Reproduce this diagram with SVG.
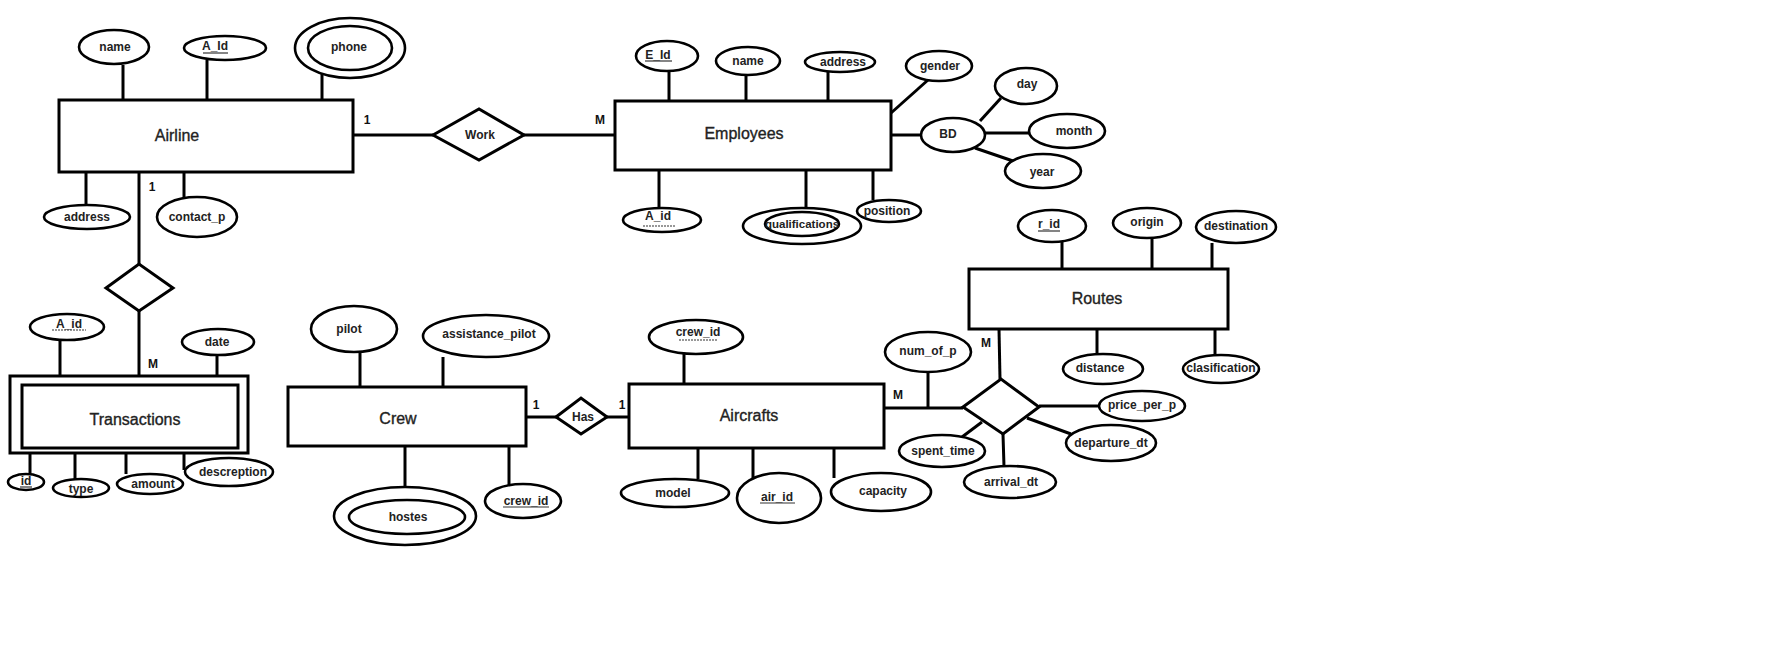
<svg xmlns="http://www.w3.org/2000/svg" width="1783" height="659" viewBox="0 0 1783 659">
<style>
.bg{fill:#fff}
.ent{fill:#fff;stroke:#000;stroke-width:3}
.att{fill:#fff;stroke:#000;stroke-width:2.6}
.rel{fill:#fff;stroke:#000;stroke-width:3;stroke-linejoin:miter}
.ln{stroke:#000;stroke-width:3;fill:none}
.ul{stroke:#333;stroke-width:1.2}
.dl{stroke:#333;stroke-width:1.2;stroke-dasharray:2 1}
.et{font-family:"Liberation Sans",Arial,sans-serif;font-size:16px;fill:#222;stroke:#222;stroke-width:0.35;text-anchor:middle;dominant-baseline:central}
.at{font-family:"Liberation Sans",Arial,sans-serif;font-size:12px;font-weight:bold;fill:#222;text-anchor:middle;dominant-baseline:central}
.cd{font-family:"Liberation Sans",Arial,sans-serif;font-size:12px;font-weight:bold;fill:#111;text-anchor:middle;dominant-baseline:central}
</style>
<rect class="bg" x="0" y="0" width="1783" height="659"/>

<g id="connectors">
  <line class="ln" x1="123" y1="65" x2="123" y2="100"/>
  <line class="ln" x1="207" y1="60" x2="207" y2="100"/>
  <line class="ln" x1="322" y1="74" x2="322" y2="100"/>
  <line class="ln" x1="86" y1="172" x2="86" y2="205"/>
  <line class="ln" x1="184" y1="172" x2="184" y2="198"/>
  <line class="ln" x1="139" y1="172" x2="139" y2="264"/>
  <line class="ln" x1="139" y1="311" x2="139" y2="376"/>
  <line class="ln" x1="353" y1="135" x2="433" y2="135"/>
  <line class="ln" x1="524" y1="135" x2="615" y2="135"/>
  <line class="ln" x1="669" y1="71" x2="669" y2="101"/>
  <line class="ln" x1="746" y1="75" x2="746" y2="101"/>
  <line class="ln" x1="828" y1="72" x2="828" y2="101"/>
  <line class="ln" x1="891" y1="113" x2="928" y2="80"/>
  <line class="ln" x1="891" y1="135" x2="921" y2="135"/>
  <line class="ln" x1="980" y1="121" x2="1001" y2="98"/>
  <line class="ln" x1="985" y1="133" x2="1029" y2="133"/>
  <line class="ln" x1="975" y1="148" x2="1013" y2="161"/>
  <line class="ln" x1="659" y1="170" x2="659" y2="208"/>
  <line class="ln" x1="806" y1="170" x2="806" y2="212"/>
  <line class="ln" x1="873" y1="170" x2="873" y2="200"/>
  <line class="ln" x1="60" y1="340" x2="60" y2="376"/>
  <line class="ln" x1="217" y1="355" x2="217" y2="376"/>
  <line class="ln" x1="30" y1="448" x2="30" y2="474"/>
  <line class="ln" x1="75" y1="453" x2="75" y2="479"/>
  <line class="ln" x1="126" y1="453" x2="126" y2="474"/>
  <line class="ln" x1="184" y1="453" x2="184" y2="470"/>
  <line class="ln" x1="360" y1="352" x2="360" y2="387"/>
  <line class="ln" x1="443" y1="357" x2="443" y2="387"/>
  <line class="ln" x1="405" y1="446" x2="405" y2="487"/>
  <line class="ln" x1="509" y1="446" x2="509" y2="485"/>
  <line class="ln" x1="526" y1="417" x2="556" y2="417"/>
  <line class="ln" x1="607" y1="417" x2="633" y2="417"/>
  <line class="ln" x1="684" y1="354" x2="684" y2="384"/>
  <line class="ln" x1="698" y1="448" x2="698" y2="479"/>
  <line class="ln" x1="753" y1="448" x2="753" y2="483"/>
  <line class="ln" x1="834" y1="448" x2="834" y2="478"/>
  <line class="ln" x1="880" y1="408" x2="963" y2="408"/>
  <line class="ln" x1="928" y1="372" x2="928" y2="408"/>
  <line class="ln" x1="1062" y1="242" x2="1062" y2="269"/>
  <line class="ln" x1="1152" y1="238" x2="1152" y2="269"/>
  <line class="ln" x1="1212" y1="243" x2="1212" y2="269"/>
  <line class="ln" x1="1097" y1="329" x2="1097" y2="354"/>
  <line class="ln" x1="1215" y1="329" x2="1215" y2="355"/>
  <line class="ln" x1="999" y1="329" x2="1000" y2="379"/>
  <line class="ln" x1="1039" y1="406" x2="1099" y2="406"/>
  <line class="ln" x1="1027" y1="418" x2="1071" y2="434"/>
  <line class="ln" x1="1003" y1="434" x2="1004" y2="467"/>
  <line class="ln" x1="982" y1="422" x2="962" y2="437"/>
</g>

<g id="airline">
  <rect class="ent" x="59" y="100" width="294" height="72"/>
  <text class="et" x="177" y="135">Airline</text>
</g>
<g id="airline-name">
  <ellipse class="att" cx="114" cy="47" rx="35" ry="17"/>
  <text class="at" x="115" y="47">name</text>
</g>
<g id="airline-aid">
  <ellipse class="att" cx="225" cy="48" rx="41" ry="12"/>
  <text class="at" x="215" y="46">A_Id</text>
  <line class="ul" x1="203" y1="53" x2="228" y2="53"/>
</g>
<g id="airline-phone">
  <ellipse class="att" cx="350" cy="48" rx="55" ry="30"/>
  <ellipse class="att" cx="350" cy="48" rx="42" ry="22"/>
  <text class="at" x="349" y="47">phone</text>
</g>
<g id="airline-address">
  <ellipse class="att" cx="87" cy="217" rx="43" ry="12"/>
  <text class="at" x="87" y="217">address</text>
</g>
<g id="airline-contact">
  <ellipse class="att" cx="197" cy="217" rx="40" ry="20"/>
  <text class="at" x="197" y="217">contact_p</text>
</g>

<g id="work">
  <polygon class="rel" points="433,135 479,109 524,135 479,160"/>
  <text class="at" x="480" y="135">Work</text>
</g>
<g id="airline-trans-rel">
  <polygon class="rel" points="106,288 139,264 173,288 139,311"/>
</g>

<g id="employees">
  <rect class="ent" x="615" y="101" width="276" height="69"/>
  <text class="et" x="744" y="133">Employees</text>
</g>
<g id="emp-eid">
  <ellipse class="att" cx="667" cy="56" rx="31" ry="15"/>
  <text class="at" x="658" y="55">E_Id</text>
  <line class="ul" x1="645" y1="61" x2="672" y2="61"/>
</g>
<g id="emp-name">
  <ellipse class="att" cx="748" cy="61" rx="32" ry="14"/>
  <text class="at" x="748" y="61">name</text>
</g>
<g id="emp-address">
  <ellipse class="att" cx="840" cy="62" rx="35" ry="10"/>
  <text class="at" x="843" y="62">address</text>
</g>
<g id="emp-gender">
  <ellipse class="att" cx="939" cy="66" rx="33" ry="15"/>
  <text class="at" x="940" y="66">gender</text>
</g>
<g id="emp-bd">
  <ellipse class="att" cx="953" cy="135" rx="32" ry="17"/>
  <text class="at" x="948" y="134">BD</text>
</g>
<g id="bd-day">
  <ellipse class="att" cx="1026" cy="86" rx="31" ry="18"/>
  <text class="at" x="1027" y="84">day</text>
</g>
<g id="bd-month">
  <ellipse class="att" cx="1067" cy="131" rx="38" ry="17"/>
  <text class="at" x="1074" y="131">month</text>
</g>
<g id="bd-year">
  <ellipse class="att" cx="1043" cy="171" rx="38" ry="17"/>
  <text class="at" x="1042" y="172">year</text>
</g>
<g id="emp-aid">
  <ellipse class="att" cx="662" cy="220" rx="39" ry="12"/>
  <text class="at" x="658" y="216">A_id</text>
  <line class="dl" x1="643" y1="226" x2="676" y2="226"/>
</g>
<g id="emp-qual">
  <ellipse class="att" cx="802" cy="226" rx="59" ry="18"/>
  <ellipse class="att" cx="802" cy="224" rx="37" ry="12"/>
  <text class="at" x="802" y="224" style="font-size:11.5px">qualifications</text>
</g>
<g id="emp-position">
  <ellipse class="att" cx="889" cy="211" rx="32" ry="11"/>
  <text class="at" x="887" y="211">position</text>
</g>

<g id="routes">
  <rect class="ent" x="969" y="269" width="259" height="60"/>
  <text class="et" x="1097" y="298">Routes</text>
</g>
<g id="routes-rid">
  <ellipse class="att" cx="1052" cy="226" rx="34" ry="16"/>
  <text class="at" x="1049" y="224">r_id</text>
  <line class="ul" x1="1038" y1="231" x2="1060" y2="231"/>
</g>
<g id="routes-origin">
  <ellipse class="att" cx="1147" cy="223" rx="34" ry="15"/>
  <text class="at" x="1147" y="222">origin</text>
</g>
<g id="routes-dest">
  <ellipse class="att" cx="1236" cy="227" rx="40" ry="16"/>
  <text class="at" x="1236" y="226">destination</text>
</g>
<g id="routes-distance">
  <ellipse class="att" cx="1103" cy="369" rx="40" ry="15"/>
  <text class="at" x="1100" y="368">distance</text>
</g>
<g id="routes-class">
  <ellipse class="att" cx="1221" cy="369" rx="38" ry="14"/>
  <text class="at" x="1221" y="368">clasification</text>
</g>
<g id="route-rel">
  <polygon class="rel" points="963,407 1001,379 1039,407 1003,434"/>
</g>
<g id="rel-price">
  <ellipse class="att" cx="1142" cy="406" rx="43" ry="15"/>
  <text class="at" x="1142" y="405">price_per_p</text>
</g>
<g id="rel-departure">
  <ellipse class="att" cx="1111" cy="443" rx="45" ry="18"/>
  <text class="at" x="1111" y="443">departure_dt</text>
</g>
<g id="rel-arrival">
  <ellipse class="att" cx="1010" cy="482" rx="46" ry="16"/>
  <text class="at" x="1011" y="482">arrival_dt</text>
</g>
<g id="rel-spent">
  <ellipse class="att" cx="942" cy="451" rx="43" ry="16"/>
  <text class="at" x="943" y="451">spent_time</text>
</g>
<g id="rel-num">
  <ellipse class="att" cx="928" cy="352" rx="43" ry="20"/>
  <text class="at" x="928" y="351">num_of_p</text>
</g>

<g id="aircrafts">
  <rect class="ent" x="629" y="384" width="255" height="64"/>
  <text class="et" x="749" y="415">Aircrafts</text>
</g>
<g id="air-crewid">
  <ellipse class="att" cx="696" cy="337" rx="47" ry="17"/>
  <text class="at" x="698" y="332">crew_id</text>
  <line class="dl" x1="679" y1="340" x2="718" y2="340"/>
</g>
<g id="air-model">
  <ellipse class="att" cx="675" cy="493" rx="54" ry="14"/>
  <text class="at" x="673" y="493">model</text>
</g>
<g id="air-airid">
  <ellipse class="att" cx="779" cy="498" rx="42" ry="25"/>
  <text class="at" x="777" y="497">air_id</text>
  <line class="ul" x1="760" y1="503" x2="795" y2="503"/>
</g>
<g id="air-capacity">
  <ellipse class="att" cx="881" cy="492" rx="50" ry="19"/>
  <text class="at" x="883" y="491">capacity</text>
</g>

<g id="has">
  <polygon class="rel" points="556,417 581,398 607,417 581,434"/>
  <text class="at" x="583" y="417">Has</text>
</g>

<g id="crew">
  <rect class="ent" x="288" y="387" width="238" height="59"/>
  <text class="et" x="398" y="418">Crew</text>
</g>
<g id="crew-pilot">
  <ellipse class="att" cx="354" cy="329" rx="43" ry="23"/>
  <text class="at" x="349" y="329">pilot</text>
</g>
<g id="crew-assist">
  <ellipse class="att" cx="486" cy="336" rx="63" ry="21"/>
  <text class="at" x="489" y="334">assistance_pilot</text>
</g>
<g id="crew-hostes">
  <ellipse class="att" cx="405" cy="516" rx="71" ry="29"/>
  <ellipse class="att" cx="407" cy="517" rx="58" ry="17"/>
  <text class="at" x="408" y="517">hostes</text>
</g>
<g id="crew-crewid">
  <ellipse class="att" cx="523" cy="501" rx="38" ry="17"/>
  <text class="at" x="526" y="501">crew_id</text>
  <line class="ul" x1="503" y1="507" x2="549" y2="507"/>
</g>

<g id="transactions">
  <rect class="ent" x="10" y="376" width="238" height="77"/>
  <rect class="ent" x="22" y="385" width="216" height="63"/>
  <text class="et" x="135" y="419">Transactions</text>
</g>
<g id="trans-aid">
  <ellipse class="att" cx="67" cy="327" rx="37" ry="13"/>
  <text class="at" x="69" y="324">A_id</text>
  <line class="dl" x1="52" y1="330" x2="86" y2="330"/>
</g>
<g id="trans-date">
  <ellipse class="att" cx="218" cy="342" rx="36" ry="13"/>
  <text class="at" x="217" y="342">date</text>
</g>
<g id="trans-id">
  <ellipse class="att" cx="26" cy="482" rx="18" ry="8"/>
  <text class="at" x="26" y="481">id</text>
  <line class="ul" x1="20" y1="487" x2="32" y2="487"/>
</g>
<g id="trans-type">
  <ellipse class="att" cx="81" cy="488" rx="28" ry="9"/>
  <text class="at" x="81" y="489">type</text>
</g>
<g id="trans-amount">
  <ellipse class="att" cx="150" cy="484" rx="33" ry="10"/>
  <text class="at" x="153" y="484">amount</text>
</g>
<g id="trans-desc">
  <ellipse class="att" cx="229" cy="472" rx="44" ry="14"/>
  <text class="at" x="233" y="472">descreption</text>
</g>

<g id="cardinalities">
  <text class="cd" x="367" y="120">1</text>
  <text class="cd" x="600" y="120">M</text>
  <text class="cd" x="152" y="187">1</text>
  <text class="cd" x="153" y="364">M</text>
  <text class="cd" x="536" y="405">1</text>
  <text class="cd" x="622" y="405">1</text>
  <text class="cd" x="898" y="395">M</text>
  <text class="cd" x="986" y="343">M</text>
</g>
</svg>
